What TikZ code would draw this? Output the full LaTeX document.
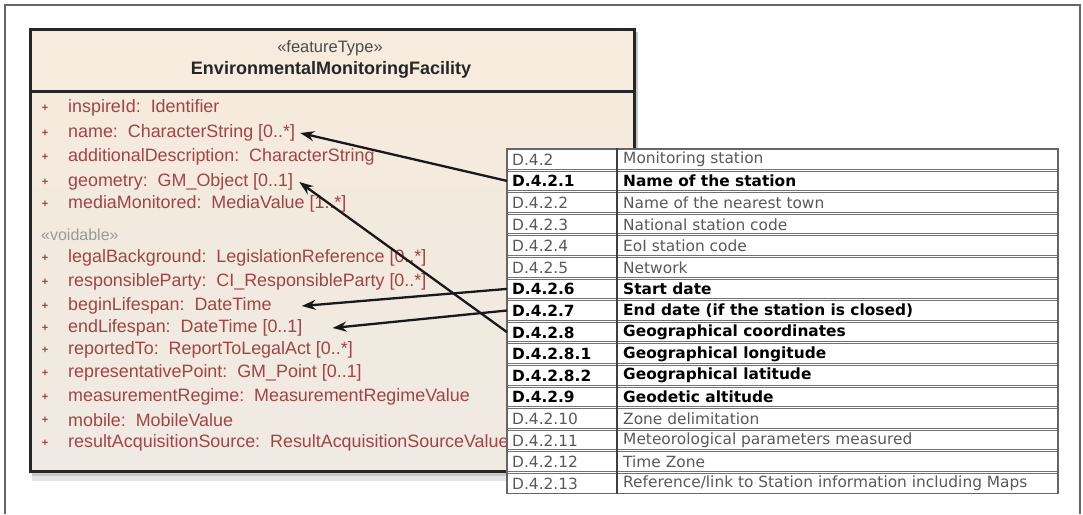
\documentclass[tikz,border=0pt]{standalone}
\usepackage{fontspec}
\setmainfont{Liberation Sans}
\newfontfamily\tabfont{DejaVu Sans}
\usetikzlibrary{arrows.meta}
\definecolor{attrred}{HTML}{A04446}
\definecolor{hdrbg}{HTML}{F6EBDC}
\definecolor{bodytop}{HTML}{F5EADC}
\definecolor{bodybot}{HTML}{EFEAE3}
\newcommand\trow[4]{%
  \node[cell, anchor=north west] (r#1) at (507,{148+21.6*#1+1}) {};
  \node[#4] (c#1) at (512,{148+21.6*(#1+0.5)+0.8}) {#2};
  \node[#4] (d#1) at (623,{148+21.6*(#1+0.5)+0.8}) {#3};
}
\begin{document}
\begin{tikzpicture}[x=1pt,y=-1pt,
  frame/.style={draw=black!60, line width=1.4pt},
  clsbox/.style={draw=black!85, line width=2.5pt, anchor=north west, minimum width=604pt, inner sep=0pt},
  attr/.style={anchor=west, text=attrred, font=\fontsize{17.9}{19}\selectfont, inner sep=0pt},
  bullet/.style={anchor=center, text=attrred, font=\fontsize{11}{12}\selectfont\bfseries, inner sep=0pt},
  cell/.style={draw=black!55, line width=1pt, fill=white, minimum width=550pt, minimum height=19.6pt, inner sep=0pt},
  code/.style={anchor=west, inner sep=0pt, font=\tabfont\fontsize{15.4}{17}\selectfont, text=black!65},
  codeb/.style={anchor=west, inner sep=0pt, font=\tabfont\bfseries\fontsize{15.4}{17}\selectfont, text=black},
  link/.style={-{Stealth[length=14pt,width=10pt]}, line width=2.3pt, draw=black!90}
]
\useasboundingbox (0,0) rectangle (1083,514);
\draw[frame] (5,514) -- (5,5) -- (1080,5) -- (1080,514);

% shadow of the class box
\fill[black!22] (32,470) rectangle (638,476);
\fill[black!10] (32,476) rectangle (638,481);
\fill[black!22] (633,32) rectangle (638,476);

% class box
\node[clsbox, minimum height=62pt, fill=hdrbg] (hdr) at (29,28) {};
\node[clsbox, minimum height=380pt, top color=bodytop, bottom color=bodybot] (body) at (29,90) {};
\draw[color=white!60!bodytop, line width=2pt] ([shift={(2pt,129pt)}]body.north west) -- ([yshift=129pt]body.north east);

\node[font=\fontsize{16.5}{18}\selectfont, text=black!70] (st) at (330,48) {«featureType»};
\node[font=\bfseries\fontsize{18}{20}\selectfont, text=black!85] (nm) at (331,70) {EnvironmentalMonitoringFacility};

\node[bullet] (b1) at (45,108) {+};  \node[attr] (a1) at (68,108) {inspireId:\ \ Identifier};
\node[bullet] (b2) at (45,133) {+};  \node[attr] (a2) at (68,133) {name:\ \ CharacterString [0..*]};
\node[bullet] (b3) at (45,157) {+};  \node[attr] (a3) at (68,157) {additionalDescription:\ \ CharacterString};
\node[bullet] (b4) at (45,182) {+};  \node[attr] (a4) at (68,182) {geometry:\ \ GM\_Object [0..1]};
\node[bullet] (b5) at (45,204) {+};  \node[attr] (a5) at (68,204) {mediaMonitored:\ \ MediaValue [1..*]};
\node[anchor=west, inner sep=0pt, text=black!40, font=\fontsize{16}{18}\selectfont] (vd) at (41,235) {«voidable»};
\node[bullet] (b6) at (45,258) {+};  \node[attr] (a6) at (68,258) {legalBackground:\ \ LegislationReference [0..*]};
\node[bullet] (b7) at (45,282) {+};  \node[attr] (a7) at (68,282) {responsibleParty:\ \ CI\_ResponsibleParty [0..*]};
\node[bullet] (b8) at (45,306) {+};  \node[attr] (a8) at (68,306) {beginLifespan:\ \ DateTime};
\node[bullet] (b9) at (45,328) {+};  \node[attr] (a9) at (68,328) {endLifespan:\ \ DateTime [0..1]};
\node[bullet] (b10) at (45,350) {+}; \node[attr] (a10) at (68,350) {reportedTo:\ \ ReportToLegalAct [0..*]};
\node[bullet] (b11) at (45,373) {+}; \node[attr] (a11) at (68,373) {representativePoint:\ \ GM\_Point [0..1]};
\node[bullet] (b12) at (45,397) {+}; \node[attr] (a12) at (68,397) {measurementRegime:\ \ MeasurementRegimeValue};
\node[bullet] (b13) at (45,420) {+}; \node[attr] (a13) at (68,420) {mobile:\ \ MobileValue};
\node[bullet] (b14) at (45,443) {+}; \node[attr] (a14) at (68,443) {resultAcquisitionSource:\ \ ResultAcquisitionSourceValue};

% table
\fill[white] (507,148) rectangle (1057,494);
\trow{0}{D.4.2}{Monitoring station}{code}
\trow{1}{D.4.2.1}{Name of the station}{codeb}
\trow{2}{D.4.2.2}{Name of the nearest town}{code}
\trow{3}{D.4.2.3}{National station code}{code}
\trow{4}{D.4.2.4}{EoI station code}{code}
\trow{5}{D.4.2.5}{Network}{code}
\trow{6}{D.4.2.6}{Start date}{codeb}
\trow{7}{D.4.2.7}{End date (if the station is closed)}{codeb}
\trow{8}{D.4.2.8}{Geographical coordinates}{codeb}
\trow{9}{D.4.2.8.1}{Geographical longitude}{codeb}
\trow{10}{D.4.2.8.2}{Geographical latitude}{codeb}
\trow{11}{D.4.2.9}{Geodetic altitude}{codeb}
\trow{12}{D.4.2.10}{Zone delimitation}{code}
\trow{13}{D.4.2.11}{Meteorological parameters measured}{code}
\trow{14}{D.4.2.12}{Time Zone}{code}
\trow{15}{D.4.2.13}{Reference/link to Station information including Maps}{code}
\draw[black!60, line width=1.2pt] (r0.north west) rectangle (r15.south east);
\draw[black!75, line width=1.3pt] (617,148) -- (617,494);

% connectors
\draw[link] (r1.west) -- ([xshift=5pt]a2.east);
\draw[link] (r8.west) -- ([xshift=6pt]a4.east);
\draw[link] (r6.west) -- ([xshift=30pt]a8.east);
\draw[link] (r7.west) -- ([xshift=30pt]a9.east);
\end{tikzpicture}
\end{document}
